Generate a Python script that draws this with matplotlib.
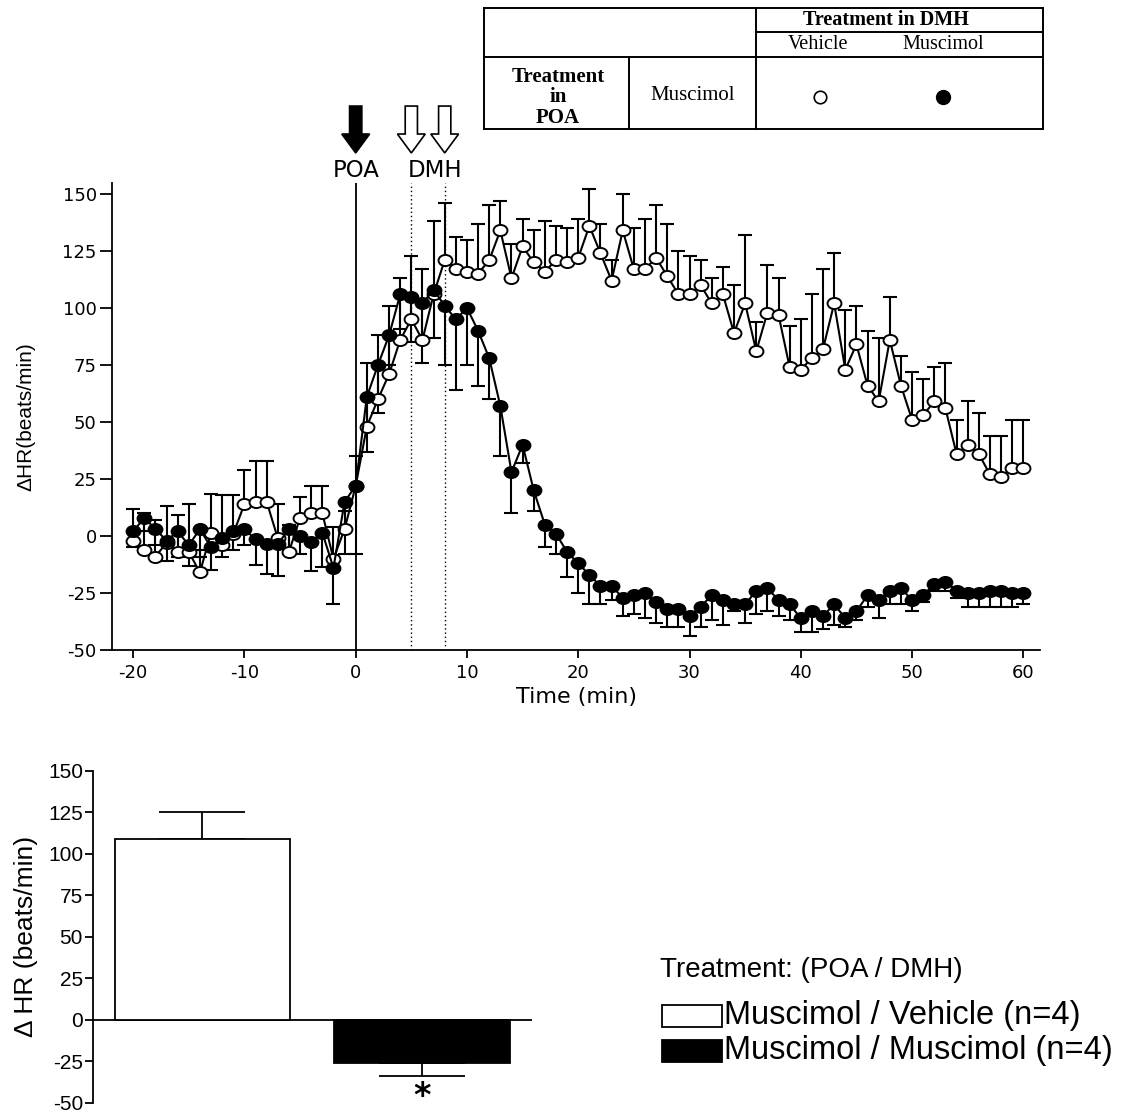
import numpy as np
import matplotlib
matplotlib.use("Agg")
import matplotlib.pyplot as plt
from matplotlib.path import Path
from matplotlib.patches import FancyArrow, Rectangle
from matplotlib.lines import Line2D
from matplotlib.transforms import blended_transform_factory

plt.rcParams["axes.unicode_minus"] = False

# ---- time course data (min -20 .. 60) ----
time = np.arange(-20, 61)

# POA muscimol / DMH muscimol (filled circles), SEM drawn downwards
filled_mean = [2, 8, 3, -2, 2, -4, 3, -5, -1, 2, 3, -1.5, -3.5, -3.5, 3, 0, -2.5, 1.5, -14, 15,
               22, 61, 75, 88, 106, 105, 102, 108, 101, 95,
               100, 90, 78, 57, 28, 40, 20, 5, 1, -7,
               -12, -17, -22, -22, -27, -26, -25, -29, -32, -32,
               -35, -31, -26, -28, -30, -30, -24, -23, -28, -30,
               -36, -33, -35, -30, -36, -33, -26, -28, -24, -23,
               -28, -26, -21, -20, -24, -25, -25, -24, -24, -25, -25]
filled_sem = [7, 6, 7, 9, 11, 9, 12, 10, 8, 8, 7, 11, 13, 14, 11, 8, 13, 15, 16, 23,
              30, 24, 21, 13, 15, 20, 26, 21, 26, 31,
              25, 24, 18, 22, 18, 8, 9, 10, 9, 11,
              13, 13, 8, 6, 8, 8, 11, 9, 8, 8,
              9, 9, 11, 11, 3, 8, 10, 10, 7, 7,
              6, 9, 6, 9, 4, 4, 5, 8, 6, 7,
              5, 3, 3, 4, 3, 6, 6, 7, 7, 6, 5]

# POA muscimol / DMH vehicle (open circles), SEM drawn upwards
open_mean = [-2, -6, -9, -3, -7, -7, -16, 1.5, -4, 1, 14, 15, 15, -1, -7, 8, 10, 10, -10, 3,
             22, 48, 60, 71, 86, 95, 86, 106, 121, 117,
             116, 115, 121, 134, 113, 127, 120, 116, 121, 120,
             122, 136, 124, 112, 134, 117, 117, 122, 114, 106,
             106, 110, 102, 106, 89, 102, 81, 98, 97, 74,
             73, 78, 82, 102, 73, 84, 66, 59, 86, 66,
             51, 53, 59, 56, 36, 40, 36, 27, 26, 30, 30]
open_sem = [14, 16, 16, 16, 16, 21, 10, 17, 22, 17, 15, 18, 18, 15, 12, 9, 12, 12, 14, 8,
            13, 28, 28, 30, 27, 28, 31, 32, 25, 14,
            14, 22, 24, 13, 15, 12, 14, 22, 15, 15,
            17, 16, 13, 9, 16, 18, 22, 23, 23, 19,
            17, 11, 11, 12, 21, 30, 13, 21, 16, 18,
            22, 28, 35, 22, 26, 17, 24, 28, 19, 13,
            21, 16, 15, 20, 15, 19, 18, 17, 18, 21, 21]

poa_time = 0
dmh_times = [5, 8]

# ---- summary bar data ----
bar_labels = ["Muscimol / Vehicle (n=4)", "Muscimol / Muscimol (n=4)"]
bar_values = [109, -26]
bar_sem = [16, 8]
bar_colors = ["white", "black"]

# ellipse marker (slightly flattened circle)
uc = Path.unit_circle()
ell = Path(uc.vertices * np.array([1.0, 0.8]), uc.codes)

fig = plt.figure(figsize=(11.27, 11.14), dpi=100)

# ================= time course =================
ax = fig.add_axes([0.0994, 0.4165, 0.8234, 0.4192])
ax.set_xlim(-21.9, 61.5)
ax.set_ylim(-50, 154.8)

ax.axvline(poa_time, color="black", lw=1.3, zorder=1)
for t in dmh_times:
    ax.axvline(t, color="black", lw=1.0, ls=(0, (1, 2)), zorder=1)

ax.errorbar(time, open_mean, yerr=[np.zeros(len(open_sem)), open_sem], fmt="none",
            ecolor="black", elinewidth=1.5, capsize=5, capthick=1.5, zorder=2)
ax.errorbar(time, filled_mean, yerr=[filled_sem, np.zeros(len(filled_sem))], fmt="none",
            ecolor="black", elinewidth=1.5, capsize=5, capthick=1.5, zorder=2)
ax.plot(time, open_mean, color="black", lw=1.5, marker=ell, ms=10,
        mfc="white", mec="black", mew=1.4, zorder=3)
ax.plot(time, filled_mean, color="black", lw=1.5, marker=ell, ms=10,
        mfc="black", mec="black", mew=1.4, zorder=4)

ax.set_xticks([-20, -10, 0, 10, 20, 30, 40, 50, 60])
ax.set_yticks([-50, -25, 0, 25, 50, 75, 100, 125, 150])
for s in ["top", "right"]:
    ax.spines[s].set_visible(False)
for s in ["left", "bottom"]:
    ax.spines[s].set_linewidth(1.3)
ax.tick_params(axis="y", direction="out", length=9, width=1.3, labelsize=13, pad=2)
ax.tick_params(axis="x", direction="out", length=6, width=1.3, labelsize=13, pad=4)
ax.set_xlabel("Time (min)", fontsize=16, labelpad=4)
ax.set_ylabel("\u0394HR(beats/min)", fontsize=15, family="Liberation Sans")
ax.yaxis.set_label_coords(-0.083, 0.5)

# injection arrows and labels
btr = blended_transform_factory(ax.transData, fig.transFigure)
fig.add_artist(FancyArrow(poa_time, 0.9048, 0, -0.0421, width=1.1, head_width=2.5,
                          head_length=0.017, length_includes_head=True,
                          fc="black", ec="black", lw=1.2, transform=btr))
for t in dmh_times:
    fig.add_artist(FancyArrow(t, 0.9048, 0, -0.0421, width=1.1, head_width=2.5,
                              head_length=0.017, length_includes_head=True,
                              fc="white", ec="black", lw=1.2, transform=btr))
fig.text(poa_time, 0.8465, "POA", transform=btr, ha="center", va="center", fontsize=16.5)
fig.text(np.mean(dmh_times) + 0.6, 0.8465, "DMH", transform=btr, ha="center",
         va="center", fontsize=16.5)

# ================= treatment table =================
L, M1, M2, R = 0.4295, 0.558, 0.6708, 0.9255
T, H1, H2, B = 0.9925, 0.9710, 0.9491, 0.8839
tbl_lines = [((L, R), (T, T)), ((L, R), (B, B)), ((L, L), (T, B)), ((R, R), (T, B)),
             ((L, R), (H2, H2)), ((M2, M2), (T, B)), ((M1, M1), (H2, B)), ((M2, R), (H1, H1))]
for xs, ys in tbl_lines:
    fig.add_artist(Line2D(xs, ys, color="black", lw=1.4, transform=fig.transFigure))
serif = "Liberation Serif"
fig.text(0.786, 0.9818, "Treatment in DMH", ha="center", va="center", fontsize=14.5,
         fontweight="bold", family=serif)
fig.text(0.726, 0.9598, "Vehicle", ha="center", va="center", fontsize=14.5, family=serif)
fig.text(0.837, 0.9598, "Muscimol", ha="center", va="center", fontsize=14.5, family=serif)
fig.text(0.495, 0.9125, "Treatment\nin\nPOA", ha="center", va="center", fontsize=15,
         fontweight="bold", family=serif, linespacing=1.05)
fig.text(0.615, 0.9147, "Muscimol", ha="center", va="center", fontsize=15, family=serif)
fig.add_artist(Line2D([0.7276], [0.9132], marker="o", ms=9, mfc="white", mec="black",
                      mew=1.2, transform=fig.transFigure))
fig.add_artist(Line2D([0.8367], [0.9132], marker="o", ms=10, mfc="black", mec="black",
                      transform=fig.transFigure))

# ================= summary bars =================
ax2 = fig.add_axes([0.0823, 0.0101, 0.3895, 0.2978])
ax2.set_xlim(-0.5, 1.5)
ax2.set_ylim(-50, 150)
xpos = np.arange(len(bar_values))
ax2.axhline(0, color="black", lw=1.3, zorder=1)
ax2.bar(xpos, bar_values, width=0.8, color=bar_colors, edgecolor="black", lw=1.3, zorder=2)
err_lo = [0 if v > 0 else e for v, e in zip(bar_values, bar_sem)]
err_hi = [e if v > 0 else 0 for v, e in zip(bar_values, bar_sem)]
ax2.errorbar(xpos, bar_values, yerr=[err_lo, err_hi], fmt="none", ecolor="black",
             elinewidth=1.3, capsize=31, capthick=1.3, zorder=1)
ax2.text(xpos[1], -46, "*", ha="center", va="center", fontsize=24, fontweight="bold")
ax2.set_yticks([-50, -25, 0, 25, 50, 75, 100, 125, 150])
ax2.set_xticks([])
for s in ["top", "right", "bottom"]:
    ax2.spines[s].set_visible(False)
ax2.spines["left"].set_linewidth(1.3)
ax2.tick_params(axis="y", direction="out", length=6, width=1.3, labelsize=15, pad=1)
for lab in ax2.get_yticklabels():
    lab.set_family("Liberation Sans")
ax2.set_ylabel("\u0394 HR (beats/min)", fontsize=19, family="Liberation Sans")
ax2.yaxis.set_label_coords(-0.125, 0.5)

# legend for bars
fig.text(0.5856, 0.1293, "Treatment: (POA / DMH)", ha="left", va="center", fontsize=20,
         family="Liberation Sans")
leg_y = [0.0880, 0.0566]
for c, lbl, y in zip(bar_colors, bar_labels, leg_y):
    fig.add_artist(Rectangle((0.5874, y - 0.0095), 0.0532, 0.019, fc=c, ec="black",
                             lw=1.3, transform=fig.transFigure))
    fig.text(0.6424, y, lbl, ha="left", va="center", fontsize=23.5, family="Liberation Sans")

fig.savefig("out.png", dpi=100, facecolor="white")
